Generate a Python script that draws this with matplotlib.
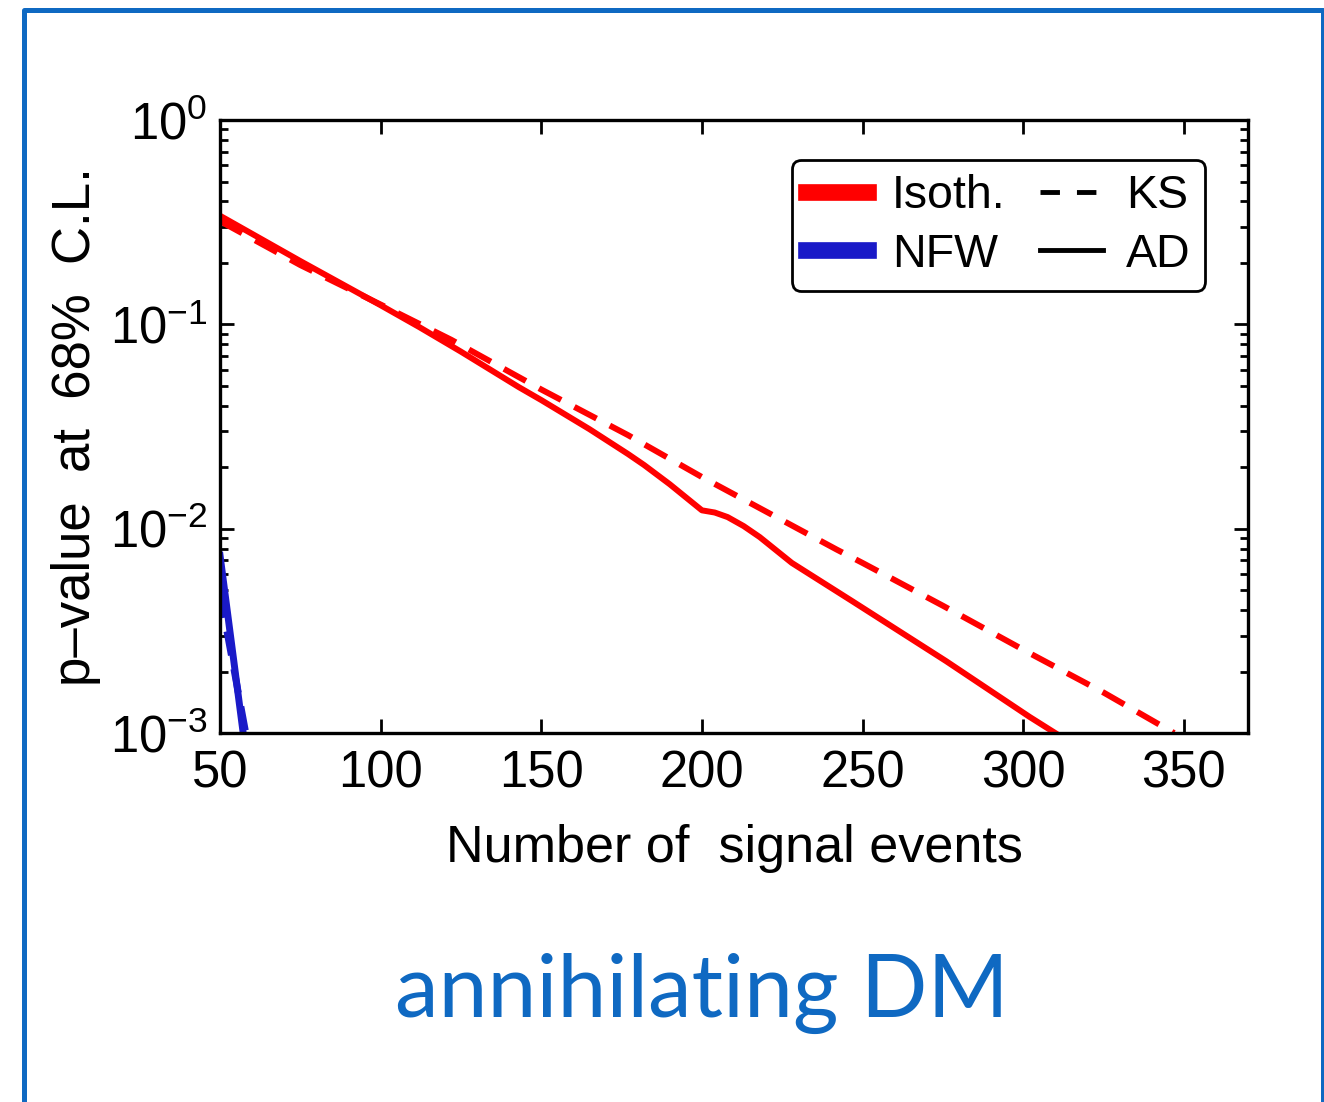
import matplotlib
matplotlib.use("Agg")
import matplotlib.pyplot as plt
from matplotlib.lines import Line2D

plt.rcParams['font.family'] = ['Liberation Sans', 'DejaVu Sans']
plt.rcParams['mathtext.fontset'] = 'custom'
plt.rcParams['mathtext.rm'] = 'Liberation Sans'
plt.rcParams['mathtext.it'] = 'Liberation Sans:italic'

# values
iso_ad_x = [50, 75, 100, 112, 125, 143, 150, 165, 177, 182, 190, 200, 204, 208, 213, 218, 228, 247, 276, 302, 310]
iso_ad_y = [0.34, 0.204, 0.124, 0.097, 0.0735, 0.0493, 0.0426, 0.0307, 0.0232, 0.0205, 0.0165, 0.0123,
            0.0120, 0.0114, 0.0103, 0.0091, 0.0068, 0.0044, 0.00225, 0.00120, 0.00100]

iso_ks_x = [50, 75, 100, 122, 150, 177, 200, 225, 242, 250, 275, 302, 325, 347]
iso_ks_y = [0.32, 0.195, 0.125, 0.084, 0.048, 0.0287, 0.0179, 0.0110, 0.0079, 0.0068,
            0.0042, 0.00246, 0.00158, 0.00100]

nfw_ad_x = [50, 57.2]
nfw_ad_y = [0.0074, 0.00100]
nfw_ks_x = [50, 58.0]
nfw_ks_y = [0.0048, 0.00100]

RED = '#ff0000'
BLUE = '#1a1ac8'
FRAME = '#0f69c2'

fig = plt.figure(figsize=(13.24, 11.02), dpi=100)

# blue slide frame (open at the bottom)
fig.add_artist(Line2D([0.0181, 0.0181, 0.9989, 0.9989], [0.0, 0.9905, 0.9905, 0.0],
                      transform=fig.transFigure, color=FRAME, lw=3.6))

ax = fig.add_axes([0.1662, 0.3348, 0.7764, 0.5563])

ax.plot(iso_ad_x, iso_ad_y, color=RED, lw=4.3, solid_joinstyle='round')
ax.plot(iso_ks_x, iso_ks_y, color=RED, lw=4.3, dashes=(4.2, 2.5))
ax.plot(nfw_ad_x, nfw_ad_y, color=BLUE, lw=5)
ax.plot(nfw_ks_x, nfw_ks_y, color=BLUE, lw=5, dashes=(3.5, 2.0))

ax.set_yscale('log')
ax.set_xlim(50, 370)
ax.set_ylim(1e-3, 1)
ax.set_xticks([50, 100, 150, 200, 250, 300, 350])

for s in ax.spines.values():
    s.set_linewidth(2.4)
ax.tick_params(which='both', direction='in', top=True, right=True, width=2, labelsize=36.5)
ax.tick_params(which='major', length=10)
ax.tick_params(which='minor', length=6)
ax.tick_params(axis='x', pad=12)
ax.tick_params(axis='y', pad=9)

ax.set_xlabel('Number of  signal events', fontsize=37.5, labelpad=18)
ax.set_ylabel('p\u2013value  at  68%  C.L.', fontsize=38, labelpad=6)

handles = [Line2D([], [], color=RED, lw=12),
           Line2D([], [], color=BLUE, lw=12),
           Line2D([], [], color='black', lw=3.5, dashes=(4, 3.5)),
           Line2D([], [], color='black', lw=3.5)]
labels = ['Isoth.', 'NFW', 'KS', 'AD']
leg = ax.legend(handles, labels, ncol=2, loc='upper right', bbox_to_anchor=(0.958, 0.935),
                borderaxespad=0, fontsize=33.5, handlelength=1.35, handletextpad=0.5,
                columnspacing=0.75, labelspacing=0.32, borderpad=0.3, fancybox=True,
                framealpha=1, edgecolor='black')
leg.get_frame().set_linewidth(2)

fig.text(0.53, 0.0771, 'annihilating DM', color=FRAME, fontsize=63, family=['Lato', 'DejaVu Sans'],
         ha='center', va='baseline')

fig.savefig('out.png', dpi=100)
